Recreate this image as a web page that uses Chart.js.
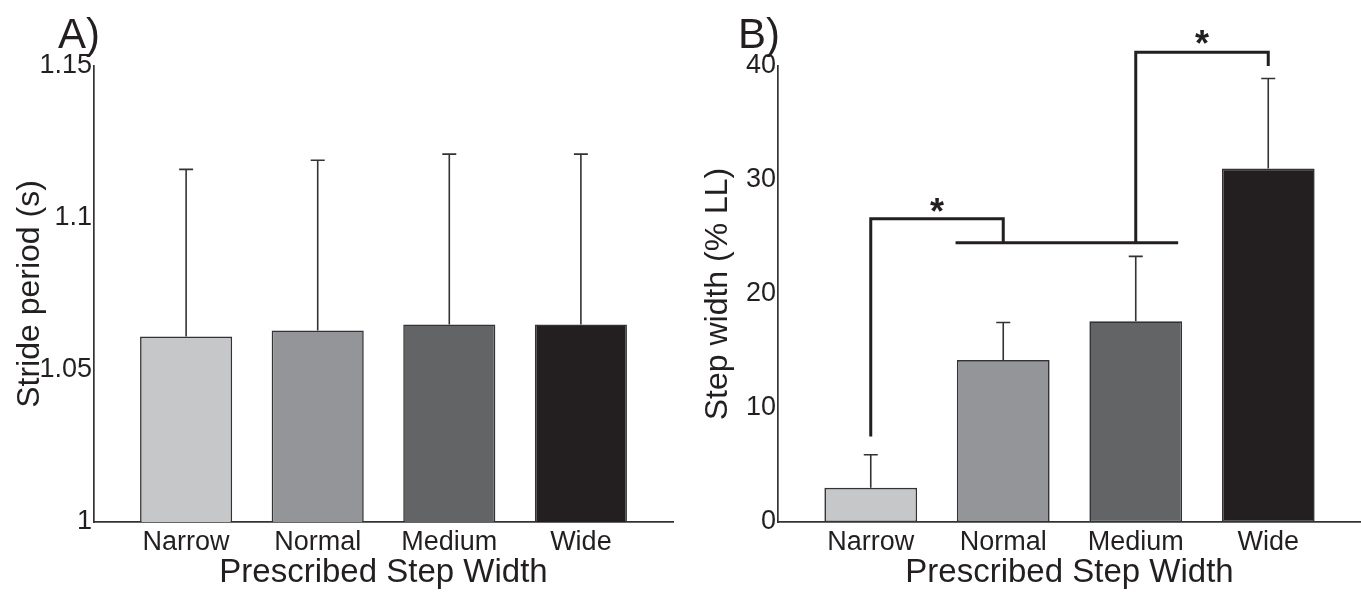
<!DOCTYPE html>
<html>
<head>
<meta charset="utf-8">
<title>Stride period and step width</title>
<script src="https://cdn.jsdelivr.net/npm/chart.js@4.4.1/dist/chart.umd.min.js"></script>
<style>
  html, body { margin: 0; padding: 0; background: #fff; }
  #wrap { position: relative; width: 1361px; height: 593px; overflow: hidden; }
  #panelA { position: absolute; left: 0; top: 0; }
  #panelB { position: absolute; left: 680px; top: 0; }
</style>
</head>
<body>
<div id="wrap">
  <canvas id="panelA" width="680" height="593"></canvas>
  <canvas id="panelB" width="681" height="593"></canvas>
</div>
<script>
// Data
const categories = ['Narrow', 'Normal', 'Medium', 'Wide'];
const stridePeriod = [1.061, 1.063, 1.065, 1.065];
const stridePeriodSD = [0.055, 0.056, 0.056, 0.056];
const stepWidth = [3.0, 14.2, 17.6, 31.0];
const stepWidthSD = [2.9, 3.3, 5.7, 7.9];
const strideTicks = [1, 1.05, 1.1, 1.15];
const stepTicks = [0, 10, 20, 30, 40];

// significance brackets (data units of panel B)
const bracket1X = [1, 1, 2, 2];
const bracket1Y = [7.5, 26.6, 26.6, 24.5];
const groupLineX = [1.64, 3.32];
const groupLineY = [24.5, 24.5];
const bracket2X = [3, 3, 4, 4];
const bracket2Y = [24.5, 41.2, 41.2, 40.0];
const starX = [1.5, 3.5];
const starY = [27.9, 42.6];

const barColors = ['#c6c7c9', '#939598', '#636466', '#231f20'];
const ink = '#231f20';
const FONT = '"Liberation Sans", Arial, Helvetica, sans-serif';

Chart.defaults.font.family = FONT;
Chart.defaults.color = ink;

// error bars (upper half only) drawn on top of the bars
const errorBars = {
    id: 'errorBars',
    afterDatasetsDraw(chart, args, opts) {
        const meta = chart.getDatasetMeta(0);
        const y = chart.scales.y;
        const ctx = chart.ctx;
        ctx.save();
        ctx.strokeStyle = '#333';
        ctx.lineWidth = 1.6;
        meta.data.forEach((bar, i) => {
            const top = y.getPixelForValue(opts.means[i] + opts.sd[i]);
            ctx.beginPath();
            ctx.moveTo(bar.x, bar.y);
            ctx.lineTo(bar.x, top);
            ctx.moveTo(bar.x - 7, top);
            ctx.lineTo(bar.x + 7, top);
            ctx.stroke();
        });
        ctx.restore();
    }
};

// panel letter and asterisks
const labels = {
    id: 'labels',
    afterDraw(chart, args, opts) {
        const ctx = chart.ctx;
        ctx.save();
        ctx.fillStyle = ink;
        ctx.font = '42px ' + FONT;
        ctx.textBaseline = 'middle';
        ctx.fillText(opts.letter, opts.letterX, 36);
        if (opts.starX) {
            ctx.font = 'bold 36px ' + FONT;
            ctx.textAlign = 'center';
            opts.starX.forEach((sx, i) => {
                ctx.fillText('*', chart.scales.x.getPixelForValue(sx), chart.scales.y.getPixelForValue(opts.starY[i]) + 10);
            });
        }
        ctx.restore();
    }
};

function lineSet(xs, ys) {
    return {
        type: 'line',
        data: xs.map((x, i) => ({ x: x, y: ys[i] })),
        borderColor: ink,
        borderWidth: 3,
        pointRadius: 0,
        tension: 0,
        borderJoinStyle: 'miter',
        clip: false,
        order: 0
    };
}

function makePanel(id, cfg) {
    const datasets = [{
        type: 'bar',
        data: cfg.means.map((v, i) => ({ x: i + 1, y: v })),
        backgroundColor: barColors,
        borderColor: '#333',
        borderWidth: 1.6,
        borderSkipped: false,
        categoryPercentage: 1,
        barPercentage: 0.7,
        order: 1
    }].concat(cfg.extra || []);

    return new Chart(document.getElementById(id), {
        type: 'bar',
        data: { datasets: datasets },
        options: {
            responsive: false,
            animation: false,
            devicePixelRatio: 1,
            layout: { padding: { top: 66, right: cfg.rightPad, left: 0, bottom: 0 } },
            plugins: {
                legend: { display: false },
                tooltip: { enabled: false },
                errorBars: { means: cfg.means, sd: cfg.sd },
                labels: { letter: cfg.letter, letterX: 58, starX: cfg.starX, starY: cfg.starY }
            },
            scales: {
                x: {
                    type: 'linear',
                    offset: false,
                    min: 0.3,
                    max: 4.7,
                    grid: { display: false, drawTicks: false, offset: false },
                    border: { display: true, color: '#333', width: 1.7 },
                    afterBuildTicks: s => { s.ticks = categories.map((c, i) => ({ value: i + 1 })); },
                    afterFit: s => { s.height = 71; },
                    ticks: {
                        padding: 4,
                        font: { size: 27 },
                        color: ink,
                        callback: v => categories[v - 1]
                    },
                    title: {
                        display: true,
                        text: 'Prescribed Step Width',
                        font: { size: 33 },
                        color: ink,
                        padding: { top: 0, bottom: 0 }
                    }
                },
                y: {
                    min: cfg.yMin,
                    max: cfg.yMax,
                    grid: { display: false, drawTicks: false },
                    border: { display: true, color: '#333', width: 1.7 },
                    afterBuildTicks: s => { s.ticks = cfg.ticks.map(v => ({ value: v })); },
                    afterFit: s => { s.width = cfg.axisWidth; },
                    ticks: {
                        padding: 2,
                        font: { size: 27 },
                        color: ink,
                        callback: v => String(+v.toFixed(2))
                    },
                    title: {
                        display: true,
                        text: cfg.yTitle,
                        font: { size: 32 },
                        color: ink,
                        padding: { top: cfg.titlePad, bottom: 0 }
                    }
                }
            }
        },
        plugins: [errorBars, labels]
    });
}

makePanel('panelA', {
    means: stridePeriod, sd: stridePeriodSD, ticks: strideTicks,
    yMin: 1, yMax: 1.15, yTitle: 'Stride period (s)',
    axisWidth: 94, rightPad: 7, titlePad: 11, letter: 'A)'
});

makePanel('panelB', {
    means: stepWidth, sd: stepWidthSD, ticks: stepTicks,
    yMin: 0, yMax: 40, yTitle: 'Step width (% LL)',
    axisWidth: 98, rightPad: 0, titlePad: 19, letter: 'B)',
    starX: starX, starY: starY,
    extra: [lineSet(bracket1X, bracket1Y), lineSet(groupLineX, groupLineY), lineSet(bracket2X, bracket2Y)]
});
</script>
</body>
</html>
